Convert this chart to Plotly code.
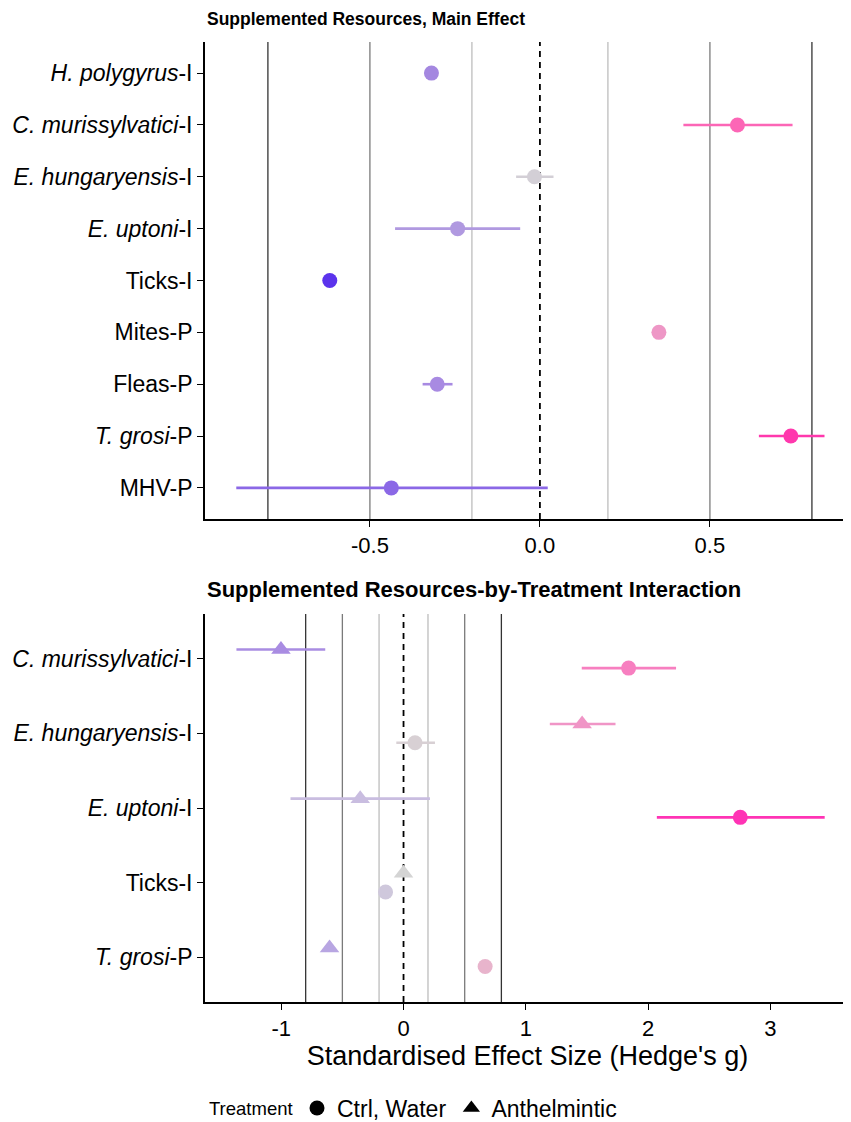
import plotly.graph_objects as go

# ---------------- data ----------------
top_labels = ["<i>H. polygyrus</i>-I", "<i>C. murissylvatici</i>-I", "<i>E. hungaryensis</i>-I",
              "<i>E. uptoni</i>-I", "Ticks-I", "Mites-P", "Fleas-P", "<i>T. grosi</i>-P", "MHV-P"]
top_est = [-0.319, 0.581, -0.016, -0.242, -0.618, 0.350, -0.302, 0.738, -0.437]
top_lo = [-0.319, 0.422, -0.070, -0.426, -0.618, 0.335, -0.345, 0.644, -0.893]
top_hi = [-0.319, 0.743, 0.040, -0.058, -0.618, 0.365, -0.257, 0.837, 0.023]
top_colors = ["#a487e0", "#fc66b6", "#d3cfd6", "#b099e0", "#5b33ec",
              "#ee97c6", "#a88ae2", "#ff38ad", "#8b68e6"]

bot_labels = ["<i>C. murissylvatici</i>-I", "<i>E. hungaryensis</i>-I", "<i>E. uptoni</i>-I",
              "Ticks-I", "<i>T. grosi</i>-P"]
bot_species = [0, 0, 1, 1, 2, 2, 3, 3, 4, 4]
bot_treat = ["Anthelmintic", "Ctrl, Water"] * 5
bot_est = [-1.002, 1.840, 1.460, 0.094, -0.354, 2.753, 0.000, -0.147, -0.605, 0.667]
bot_lo = [-1.366, 1.457, 1.196, -0.059, -0.924, 2.071, -0.030, -0.177, -0.625, 0.647]
bot_hi = [-0.640, 2.228, 1.733, 0.257, 0.216, 3.443, 0.030, -0.117, -0.585, 0.687]
bot_colors = ["#a98ce2", "#f77fc0", "#f095c6", "#d8d0d4", "#c9bde0",
              "#ff33b5", "#d4d4d4", "#cfc8dc", "#b8a6e2", "#e8b4cc"]

treatments = ["Ctrl, Water", "Anthelmintic"]
symbols = {"Ctrl, Water": "circle", "Anthelmintic": "triangle-up"}
dodge = {"Ctrl, Water": -0.125, "Anthelmintic": 0.125}

ref_lines = [(-0.8, "#333333"), (-0.5, "#7a7a7a"), (-0.2, "#bdbdbd"),
             (0.2, "#bdbdbd"), (0.5, "#7a7a7a"), (0.8, "#333333")]

FONT = "Liberation Sans, Arial, sans-serif"

# page body has an 8px margin; figure sized to fit the window
OFF = 8
W, H = 851 - OFF, 1122 - OFF
PLOT_L, PLOT_R = 205, 850


def py(screen_y):
    return 1 - (screen_y - OFF) / H


def px(screen_x):
    return (screen_x - PLOT_L) / (PLOT_R - PLOT_L)


fig = go.Figure()

# ---------------- top panel ----------------
n_top = len(top_labels)
top_y = [n_top - i for i in range(n_top)]
for i in range(n_top):
    fig.add_trace(go.Scatter(
        x=[top_est[i]], y=[top_y[i]], mode="markers",
        marker=dict(symbol="circle", size=15, color=top_colors[i], line=dict(width=0)),
        error_x=dict(type="data", symmetric=False,
                     array=[top_hi[i] - top_est[i]], arrayminus=[top_est[i] - top_lo[i]],
                     color=top_colors[i], thickness=2.6, width=0),
        showlegend=False, xaxis="x", yaxis="y", hoverinfo="x+y"))

# ---------------- bottom panel ----------------
n_bot = len(bot_labels)
bot_base = [n_bot - i for i in range(n_bot)]
for j in range(len(bot_est)):
    t = bot_treat[j]
    fig.add_trace(go.Scatter(
        x=[bot_est[j]], y=[bot_base[bot_species[j]] + dodge[t]], mode="markers",
        marker=dict(symbol=symbols[t], size=15 if t == "Ctrl, Water" else 17,
                    color=bot_colors[j], line=dict(width=0)),
        error_x=dict(type="data", symmetric=False,
                     array=[bot_hi[j] - bot_est[j]], arrayminus=[bot_est[j] - bot_lo[j]],
                     color=bot_colors[j], thickness=2.6, width=0),
        showlegend=False, xaxis="x2", yaxis="y2", hoverinfo="x+y"))

# legend entries
for t in treatments:
    fig.add_trace(go.Scatter(
        x=[None], y=[None], mode="markers", name=t,
        marker=dict(symbol=symbols[t], size=15, color="black"),
        showlegend=True, xaxis="x2", yaxis="y2"))

# reference lines
shapes = []
for xr, yr in (("x", "y"), ("x2", "y2")):
    for v, c in ref_lines:
        shapes.append(dict(type="line", xref=xr, yref=yr + " domain", x0=v, x1=v, y0=0, y1=1,
                           line=dict(color=c, width=1.3), layer="below"))
    shapes.append(dict(type="line", xref=xr, yref=yr + " domain", x0=0, x1=0, y0=0, y1=1,
                       line=dict(color="black", width=1.8, dash="6px,5px"), layer="below"))

axis_common = dict(showline=True, linecolor="black", linewidth=1.8, ticks="outside",
                   ticklen=6, tickwidth=1.3, tickcolor="black", showgrid=False, zeroline=False,
                   automargin=False)
xtickfont = dict(family=FONT, size=22, color="black")
ytickfont = dict(family=FONT, size=23, color="black")

top_xticks = [-0.5, 0.0, 0.5]
bot_xticks = [-1, 0, 1, 2, 3]

fig.update_layout(
    width=W, height=H,
    margin=dict(l=PLOT_L - OFF, r=W - (PLOT_R - OFF), t=0, b=0, autoexpand=False),
    paper_bgcolor="white", plot_bgcolor="white",
    font=dict(family=FONT, color="black"),
    shapes=shapes,
    xaxis=dict(domain=[0, 1], range=[-0.985, 0.912], anchor="y",
               tickvals=top_xticks, ticktext=["%.1f" % v for v in top_xticks],
               tickfont=xtickfont, **axis_common),
    yaxis=dict(domain=[py(519), py(42)], range=[0.4, n_top + 0.6], anchor="x",
               tickvals=top_y, ticktext=top_labels, tickfont=ytickfont, **axis_common),
    xaxis2=dict(domain=[0, 1], range=[-1.623, 3.65], anchor="y2",
                tickvals=bot_xticks, ticktext=[str(v) for v in bot_xticks], tickfont=xtickfont,
                title=dict(text="Standardised Effect Size (Hedge's g)",
                           font=dict(family=FONT, size=27, color="black"), standoff=5),
                **axis_common),
    yaxis2=dict(domain=[py(1002), py(614)], range=[0.4, n_bot + 0.6], anchor="x2",
                tickvals=bot_base, ticktext=bot_labels, tickfont=ytickfont, **axis_common),
    legend=dict(orientation="h", x=px(297), xanchor="left", y=py(1108), yanchor="middle",
                font=dict(family=FONT, size=23, color="black"), itemwidth=30),
    annotations=[
        dict(text="<b>Supplemented Resources, Main Effect</b>", xref="paper", yref="paper",
             x=0, y=py(19), xanchor="left", yanchor="middle", showarrow=False,
             font=dict(family=FONT, size=17.5, color="black")),
        dict(text="<b>Supplemented Resources-by-Treatment Interaction</b>", xref="paper", yref="paper",
             x=0, y=py(589), xanchor="left", yanchor="middle", showarrow=False,
             font=dict(family=FONT, size=22, color="black")),
        dict(text="Treatment", xref="paper", yref="paper",
             x=px(207), y=py(1108), xanchor="left", yanchor="middle", showarrow=False,
             font=dict(family=FONT, size=18.5, color="black")),
    ],
)

fig.write_html("out.html")
